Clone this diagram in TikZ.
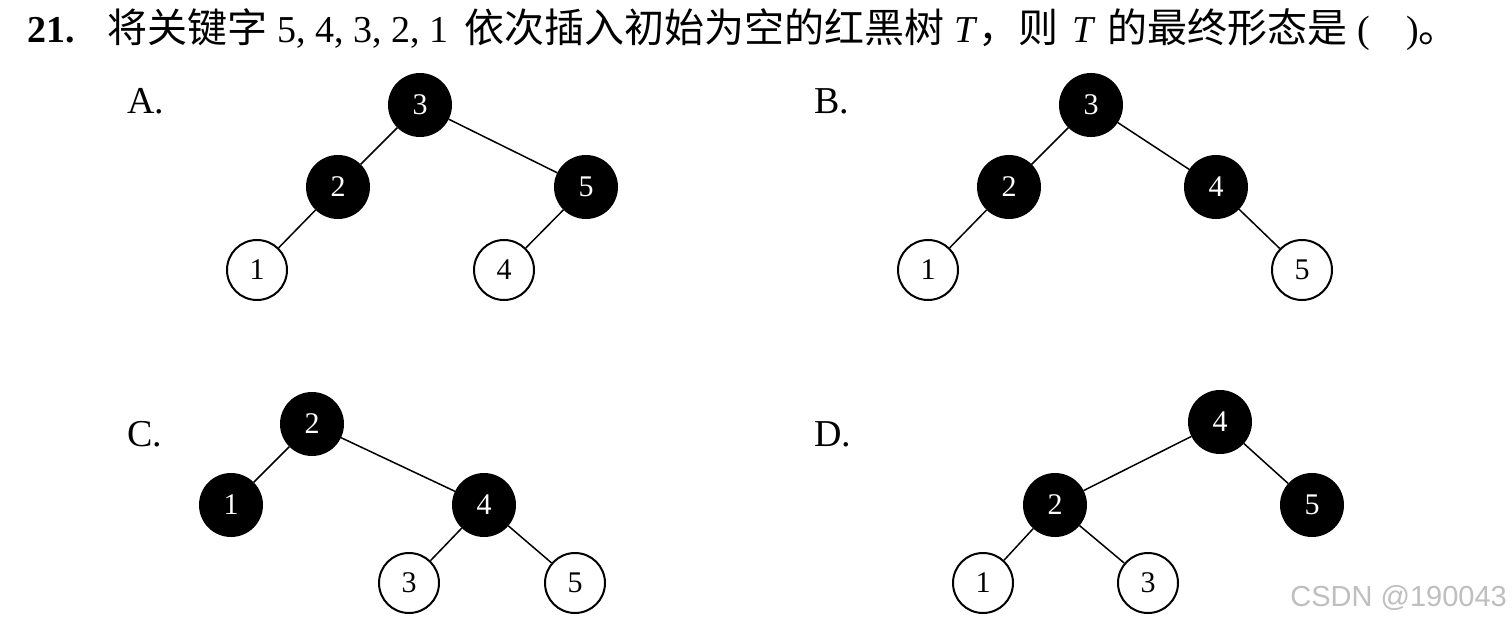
\documentclass[tikz,border=0pt]{standalone}
\usepackage{fontspec}
\setmainfont{Liberation Serif}
\newfontfamily\cjk{Noto Sans CJK SC}
\newfontfamily\wmfont{Liberation Sans}
\newcommand{\zh}[1]{{\cjk\fontsize{20}{20}\selectfont #1}}
\begin{document}
\begin{tikzpicture}[x=0.5pt,y=-0.5pt,
  bnode/.style={circle,draw=black,fill=black,line width=1pt,minimum size=31pt,inner sep=0pt,text=white,font=\fontsize{15}{15}\selectfont},
  wnode/.style={circle,draw=black,fill=white,line width=1pt,minimum size=30pt,inner sep=0pt,text=black,font=\fontsize{15}{15}\selectfont},
  edge/.style={line width=0.75pt,black},
  lab/.style={anchor=base west,font=\fontsize{19}{19}\selectfont,inner sep=0pt}]
\useasboundingbox (0,0) rectangle (1512,621);
\fill[white] (0,0) rectangle (1512,621);
% title
\node[anchor=base west,inner sep=0pt,font=\fontsize{19}{19}\selectfont] (title) at (27,42)
 {\textbf{21.}\hspace{16.5pt}\zh{将关键字}\hspace{5pt}5, 4, 3, 2, 1\hspace{8pt}\zh{依次插入初始为空的红黑树}\hspace{5pt}\textit{T}\zh{，则}\hspace{7pt}\textit{T}\hspace{6pt}\zh{的最终形态是}\hspace{5pt}(\hspace{18pt})\zh{。}};
% labels
\node[lab] (la) at (127,113) {A.};
\node[lab] (lb) at (814,113) {B.};
\node[lab] (lc) at (127,446) {C.};
\node[lab] (ld) at (814,446) {D.};
% tree A
\node[bnode] (a3) at (420,105) {3};
\node[bnode] (a2) at (338,187) {2};
\node[bnode] (a5) at (586,187) {5};
\node[wnode] (a1) at (257,270) {1};
\node[wnode] (a4) at (504,270) {4};
\draw[edge] (a3) -- (a2); \draw[edge] (a3) -- (a5);
\draw[edge] (a2) -- (a1); \draw[edge] (a5) -- (a4);
% tree B
\node[bnode] (b3) at (1091,105) {3};
\node[bnode] (b2) at (1009,187) {2};
\node[bnode] (b4) at (1216,187) {4};
\node[wnode] (b1) at (928,270) {1};
\node[wnode] (b5) at (1302,270) {5};
\draw[edge] (b3) -- (b2); \draw[edge] (b3) -- (b4);
\draw[edge] (b2) -- (b1); \draw[edge] (b4) -- (b5);
% tree C
\node[bnode] (c2) at (312,424) {2};
\node[bnode] (c1) at (231,505) {1};
\node[bnode] (c4) at (484,505) {4};
\node[wnode] (c3) at (409,583) {3};
\node[wnode] (c5) at (575,583) {5};
\draw[edge] (c2) -- (c1); \draw[edge] (c2) -- (c4);
\draw[edge] (c4) -- (c3); \draw[edge] (c4) -- (c5);
% tree D
\node[bnode] (d4) at (1220,422) {4};
\node[bnode] (d2) at (1055,505) {2};
\node[bnode] (d5) at (1312,505) {5};
\node[wnode] (d1) at (983,583) {1};
\node[wnode] (d3) at (1148,583) {3};
\draw[edge] (d4) -- (d2); \draw[edge] (d4) -- (d5);
\draw[edge] (d2) -- (d1); \draw[edge] (d2) -- (d3);
% watermark
\node[anchor=base west,inner sep=0pt,text=black!25,font=\wmfont\fontsize{14.5}{14.5}\selectfont] (wm) at (1290,606) {CSDN @190043};
\end{tikzpicture}
\end{document}
